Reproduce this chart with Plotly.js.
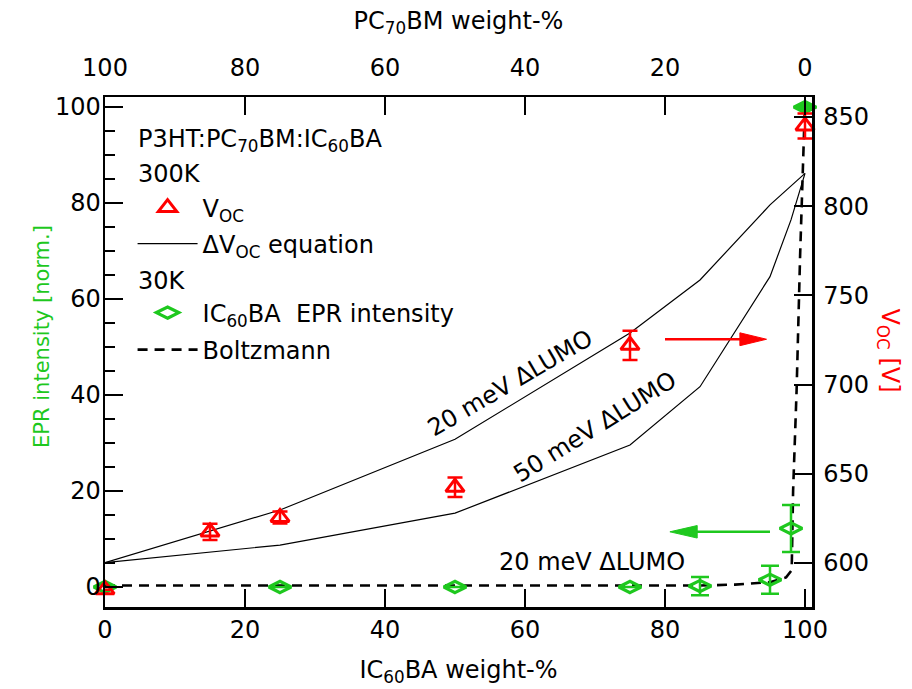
<!DOCTYPE html>
<html>
<head>
<meta charset="utf-8">
<script src="https://cdn.plot.ly/plotly-3.0.1.min.js"></script>
<style>html,body{margin:0;padding:0;background:#fff;}#chart{width:912px;height:689px;}</style>
</head>
<body>
<div id="chart"></div>
<script>
// ---- data ----
// V_OC at 300K (right axis, mV)
const vocX = [0, 15, 25, 50, 75, 100];
const vocY = [585, 617.4, 625.5, 642.4, 722, 845];
const vocErr = [0, 4.5, 3.4, 5.5, 8.2, 7];

// Delta V_OC equation curves (right axis, mV)
const eq20X = [0, 25, 50, 75, 85, 95, 100];
const eq20Y = [600.2, 629.7, 669.3, 728.9, 758.6, 800.7, 818.4];
const eq50X = [0, 25, 50, 75, 85, 95, 98, 100];
const eq50Y = [600.2, 610, 627.9, 666.1, 698.8, 760.5, 792.3, 818.4];

// IC60BA EPR intensity at 30K (left axis, normalised)
const eprX = [0, 25, 50, 75, 85, 95, 98, 100];
const eprY = [0, 0, 0, 0, 0.2, 1.5, 12.2, 100];
const eprErr = [0, 0, 0, 0, 1.9, 2.9, 4.9, 0];

// Boltzmann curve (left axis)
const boltzX = [0, 25, 50, 75, 85, 90, 95, 97.3, 98.1, 98.3, 98.8, 99.3, 100];
const boltzY = [0.3, 0.3, 0.3, 0.3, 0.3, 0.5, 1.0, 2.0, 3.5, 20, 41, 69, 101];

// axis ticks
const bottomTicks = [0, 20, 40, 60, 80, 100];
const topTicks = [100, 80, 60, 40, 20, 0];
const leftTicks = [0, 20, 40, 60, 80, 100];
const rightTicks = [600, 650, 700, 750, 800, 850];

const RED = '#ff0000';
const GREEN = '#1ec81e';
const FONT = 'DejaVu Sans, Verdana, sans-serif';
const FS = 24;
const txt = (c, s) => ({family: FONT, size: s || FS, color: c || '#000'});

const eprSymbols = eprX.map((v, i) => i === eprX.length - 1 ? 'diamond-wide' : 'diamond-wide-open');

const traces = [
  {x: eq20X, y: eq20Y, xaxis: 'x', yaxis: 'y2', mode: 'lines', name: '\u0394V<sub>OC</sub> equation',
   line: {color: '#000', width: 1.2}, legend: 'legend2', hoverinfo: 'skip'},
  {x: eq50X, y: eq50Y, xaxis: 'x', yaxis: 'y2', mode: 'lines', showlegend: false,
   line: {color: '#000', width: 1.2}, hoverinfo: 'skip'},
  {x: boltzX, y: boltzY, xaxis: 'x', yaxis: 'y', mode: 'lines', name: 'Boltzmann',
   line: {color: '#000', width: 2.6, dash: '10px,7px'}, legend: 'legend4'},
  {x: vocX, y: vocY, xaxis: 'x', yaxis: 'y2', mode: 'markers', name: 'V<sub>OC</sub>',
   marker: {symbol: 'triangle-up-open', size: 16, color: RED, line: {color: RED, width: 3}},
   error_y: {type: 'data', array: vocErr, visible: true, color: RED, thickness: 2.5, width: 7.5},
   cliponaxis: false, legend: 'legend'},
  {x: eprX, y: eprY, xaxis: 'x', yaxis: 'y', mode: 'markers', name: 'IC<sub>60</sub>BA  EPR intensity',
   marker: {symbol: eprSymbols, size: 16, color: GREEN, line: {color: GREEN, width: 3.2}},
   error_y: {type: 'data', array: eprErr, visible: true, color: GREEN, thickness: 2.5, width: 9},
   cliponaxis: false, legend: 'legend3'},
  // invisible helper so the top axis (PC70BM) is drawn
  {x: [], y: [], xaxis: 'x2', yaxis: 'y', mode: 'markers', showlegend: false, hoverinfo: 'skip'}
];

const axBase = {
  showgrid: false, zeroline: false, showline: true, linecolor: '#000', linewidth: 2.5,
  ticks: 'inside', ticklen: 18, tickwidth: 2, tickcolor: '#000',
  tickfont: txt(), fixedrange: true
};

const legBase = (yc) => ({
  x: 0.039, y: yc, xanchor: 'left', yanchor: 'middle', bgcolor: 'rgba(0,0,0,0)',
  font: txt(), itemwidth: 60, traceorder: 'normal'
});
const py = (pix) => (607 - pix) / 510;   // pixel row -> paper y (plot area 97..607)
const px = (pix) => (pix - 105) / 707;   // pixel column -> paper x (plot area 105..812)

const layout = {
  width: 912, height: 689,
  margin: {l: 105, r: 100, t: 97, b: 82, pad: 0},
  paper_bgcolor: '#fff', plot_bgcolor: '#fff',
  font: txt(),
  xaxis: Object.assign({}, axBase, {
    range: [0, 101], tickmode: 'array', tickvals: bottomTicks, ticktext: bottomTicks.map(String),
    title: {text: 'IC<sub>60</sub>BA weight-%', font: txt(), standoff: 18}
  }),
  xaxis2: Object.assign({}, axBase, {
    overlaying: 'x', side: 'top', anchor: 'y', range: [100, -1],
    tickmode: 'array', tickvals: topTicks, ticktext: topTicks.map(String), ticklabelstandoff: 9,
    title: {text: 'PC<sub>70</sub>BM weight-%', font: txt(), standoff: 18}
  }),
  yaxis: Object.assign({}, axBase, {
    range: [-4.17, 102.1], tickmode: 'array', tickvals: leftTicks, ticktext: leftTicks.map(String),
    ticklabelstandoff: -3,
    minor: {dtick: 5, ticks: 'inside', ticklen: 10, tickwidth: 2, tickcolor: '#000', showgrid: false}
  }),
  yaxis2: Object.assign({}, axBase, {
    overlaying: 'y', side: 'right', anchor: 'x', range: [575.3, 861.2],
    tickmode: 'array', tickvals: rightTicks, ticktext: rightTicks.map(String), ticklabelstandoff: 4
  }),
  showlegend: true,
  legend: legBase(py(208)),
  legend2: legBase(py(244)),
  legend3: legBase(py(313)),
  legend4: legBase(py(350)),
  annotations: [
    {text: 'P3HT:PC<sub>70</sub>BM:IC<sub>60</sub>BA', xref: 'paper', yref: 'paper', x: px(136), y: py(140),
     xanchor: 'left', yanchor: 'middle', showarrow: false, font: txt()},
    {text: '300K', xref: 'paper', yref: 'paper', x: px(136), y: py(174),
     xanchor: 'left', yanchor: 'middle', showarrow: false, font: txt()},
    {text: '30K', xref: 'paper', yref: 'paper', x: px(136), y: py(281),
     xanchor: 'left', yanchor: 'middle', showarrow: false, font: txt()},
    {text: 'EPR intensity [norm.]', xref: 'paper', yref: 'paper', x: -0.11, y: 0.53, textangle: -90,
     showarrow: false, font: txt(GREEN, 21)},
    {text: 'V<sub>OC</sub> [V]', xref: 'paper', yref: 'paper', x: 1.133, y: 0.504, textangle: 90,
     showarrow: false, font: txt(RED)},
    {text: '20 meV \u0394LUMO', xref: 'x', yref: 'y2', x: 57.9, y: 700.9, textangle: -30.4,
     showarrow: false, font: txt()},
    {text: '50 meV \u0394LUMO', xref: 'x', yref: 'y2', x: 70, y: 676.2, textangle: -32,
     showarrow: false, font: txt()},
    {text: '20 meV \u0394LUMO', xref: 'x', yref: 'y2', x: 69.5, y: 600.6, textangle: 0,
     showarrow: false, font: txt()}
  ],
  shapes: [
    {type: 'line', xref: 'x', yref: 'y2', x0: 80, x1: 91, y0: 725.4, y1: 725.4, line: {color: RED, width: 2.5}},
    {type: 'path', xref: 'x', yref: 'y2', path: 'M 90.7,729 L 94.5,725.4 L 90.7,721.8 Z', fillcolor: RED, line: {color: RED, width: 1}},
    {type: 'line', xref: 'x', yref: 'y', x0: 84, x1: 95, y0: 11.5, y1: 11.5, line: {color: GREEN, width: 2.5}},
    {type: 'path', xref: 'x', yref: 'y', path: 'M 84.6,12.8 L 80.7,11.5 L 84.6,10.2 Z', fillcolor: GREEN, line: {color: GREEN, width: 1}}
  ]
};

Plotly.newPlot('chart', traces, layout, {staticPlot: true, displayModeBar: false});
</script>
</body>
</html>
